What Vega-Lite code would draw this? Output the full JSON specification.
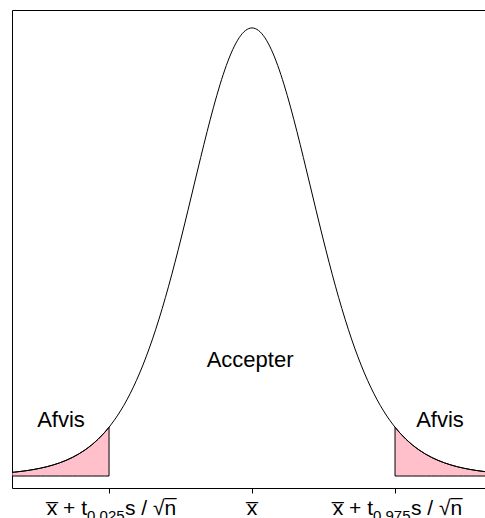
{
  "$schema": "https://vega.github.io/schema/vega-lite/v6.json",
  "width": 473,
  "height": 478,
  "autosize": {"type": "none"},
  "padding": {"left": 12, "top": 10, "right": 0, "bottom": 30},
  "background": "white",
  "config": {
    "view": {"stroke": null},
    "font": "Liberation Sans",
    "text": {"font": "Liberation Sans", "color": "black"}
  },
  "datasets": {
    "curve": [
      {"t": -3.74, "d": 0.00316},
      {"t": -3.7, "d": 0.00339},
      {"t": -3.6, "d": 0.00403},
      {"t": -3.5, "d": 0.00478},
      {"t": -3.4, "d": 0.00569},
      {"t": -3.3, "d": 0.00677},
      {"t": -3.2, "d": 0.00805},
      {"t": -3.1, "d": 0.00958},
      {"t": -3.0, "d": 0.0114},
      {"t": -2.9, "d": 0.01356},
      {"t": -2.8, "d": 0.01612},
      {"t": -2.7, "d": 0.01916},
      {"t": -2.6, "d": 0.02273},
      {"t": -2.5, "d": 0.02694},
      {"t": -2.4, "d": 0.03189},
      {"t": -2.3, "d": 0.03766},
      {"t": -2.228, "d": 0.0424},
      {"t": -2.2, "d": 0.04439},
      {"t": -2.1, "d": 0.05217},
      {"t": -2.0, "d": 0.06114},
      {"t": -1.9, "d": 0.07143},
      {"t": -1.8, "d": 0.08312},
      {"t": -1.7, "d": 0.09632},
      {"t": -1.6, "d": 0.11108},
      {"t": -1.5, "d": 0.12745},
      {"t": -1.4, "d": 0.14539},
      {"t": -1.3, "d": 0.16485},
      {"t": -1.2, "d": 0.18567},
      {"t": -1.1, "d": 0.20761},
      {"t": -1.0, "d": 0.23036},
      {"t": -0.9, "d": 0.25353},
      {"t": -0.8, "d": 0.27662},
      {"t": -0.7, "d": 0.29909},
      {"t": -0.6, "d": 0.32032},
      {"t": -0.5, "d": 0.3397},
      {"t": -0.4, "d": 0.35658},
      {"t": -0.3, "d": 0.3704},
      {"t": -0.2, "d": 0.38066},
      {"t": -0.1, "d": 0.38698},
      {"t": 0.0, "d": 0.38911},
      {"t": 0.1, "d": 0.38698},
      {"t": 0.2, "d": 0.38066},
      {"t": 0.3, "d": 0.3704},
      {"t": 0.4, "d": 0.35658},
      {"t": 0.5, "d": 0.3397},
      {"t": 0.6, "d": 0.32032},
      {"t": 0.7, "d": 0.29909},
      {"t": 0.8, "d": 0.27662},
      {"t": 0.9, "d": 0.25353},
      {"t": 1.0, "d": 0.23036},
      {"t": 1.1, "d": 0.20761},
      {"t": 1.2, "d": 0.18567},
      {"t": 1.3, "d": 0.16485},
      {"t": 1.4, "d": 0.14539},
      {"t": 1.5, "d": 0.12745},
      {"t": 1.6, "d": 0.11108},
      {"t": 1.7, "d": 0.09632},
      {"t": 1.8, "d": 0.08312},
      {"t": 1.9, "d": 0.07143},
      {"t": 2.0, "d": 0.06114},
      {"t": 2.1, "d": 0.05217},
      {"t": 2.2, "d": 0.04439},
      {"t": 2.228, "d": 0.0424},
      {"t": 2.3, "d": 0.03766},
      {"t": 2.4, "d": 0.03189},
      {"t": 2.5, "d": 0.02694},
      {"t": 2.6, "d": 0.02273},
      {"t": 2.7, "d": 0.01916},
      {"t": 2.8, "d": 0.01612},
      {"t": 2.9, "d": 0.01356},
      {"t": 3.0, "d": 0.0114},
      {"t": 3.1, "d": 0.00958},
      {"t": 3.2, "d": 0.00805},
      {"t": 3.3, "d": 0.00677},
      {"t": 3.4, "d": 0.00569},
      {"t": 3.5, "d": 0.00478},
      {"t": 3.6, "d": 0.00403},
      {"t": 3.7, "d": 0.00339},
      {"t": 3.74, "d": 0.00316}
    ],
    "regions": [
      {"t": -2.976, "d": 0.0428, "label": "Afvis"},
      {"t": 2.929, "d": 0.0428, "label": "Afvis"},
      {"t": -0.03, "d": 0.0949, "label": "Accepter"}
    ],
    "bounds": [
      {"t": -2.228, "sub": "0.025"},
      {"t": 2.228, "sub": "0.975"}
    ],
    "centre": [
      {"t": 0}
    ]
  },
  "resolve": {"axis": {"x": "independent"}},
  "layer": [
    {
      "data": {"name": "curve"},
      "transform": [{"filter": "datum.t <= -2.228"}],
      "mark": {"type": "area", "fill": "#FFC0CB", "stroke": "black", "strokeWidth": 1, "clip": true},
      "encoding": {
        "x": {"field": "t", "type": "quantitative", "scale": {"domain": [-3.74, 3.63], "nice": false, "zero": false}, "axis": null},
        "y": {"field": "d", "type": "quantitative", "scale": {"domain": [-0.0104, 0.4047], "nice": false, "zero": false},
              "axis": {"orient": "left", "domain": true, "domainColor": "black", "domainWidth": 1, "ticks": false, "labels": false, "grid": false, "title": null}},
        "y2": {"datum": 0}
      }
    },
    {
      "data": {"name": "curve"},
      "transform": [{"filter": "datum.t >= 2.228"}],
      "mark": {"type": "area", "fill": "#FFC0CB", "stroke": "black", "strokeWidth": 1, "clip": true},
      "encoding": {
        "x": {"field": "t", "type": "quantitative", "axis": null},
        "y": {"field": "d", "type": "quantitative"},
        "y2": {"datum": 0}
      }
    },
    {
      "data": {"name": "curve"},
      "mark": {"type": "line", "color": "black", "strokeWidth": 1, "interpolate": "monotone", "clip": true},
      "encoding": {
        "x": {"field": "t", "type": "quantitative",
              "axis": {"orient": "bottom", "values": [-2.228, 0, 2.228], "domain": true, "domainColor": "black", "domainWidth": 1, "ticks": true, "tickColor": "black", "tickSize": 5, "labels": false, "grid": false, "title": null}},
        "y": {"field": "d", "type": "quantitative"}
      }
    },
    {
      "data": {"name": "regions"},
      "mark": {"type": "text", "fontSize": 22, "align": "center", "baseline": "alphabetic"},
      "encoding": {
        "x": {"field": "t", "type": "quantitative",
              "axis": {"orient": "top", "domain": true, "domainColor": "black", "domainWidth": 1, "ticks": false, "labels": false, "grid": false, "title": null}},
        "y": {"field": "d", "type": "quantitative"},
        "text": {"field": "label"}
      }
    },
    {
      "data": {"name": "bounds"},
      "mark": {"type": "text", "fontSize": 21, "align": "right", "baseline": "alphabetic", "dx": -22, "dy": 27},
      "encoding": {
        "x": {"field": "t", "type": "quantitative", "axis": null},
        "y": {"datum": -0.0104},
        "text": {"value": "x̅ + t"}
      }
    },
    {
      "data": {"name": "bounds"},
      "mark": {"type": "text", "fontSize": 15, "align": "left", "baseline": "alphabetic", "dx": -22, "dy": 33},
      "encoding": {
        "x": {"field": "t", "type": "quantitative", "axis": null},
        "y": {"datum": -0.0104},
        "text": {"field": "sub"}
      }
    },
    {
      "data": {"name": "bounds"},
      "mark": {"type": "text", "fontSize": 21, "align": "left", "baseline": "alphabetic", "dx": 16, "dy": 27},
      "encoding": {
        "x": {"field": "t", "type": "quantitative", "axis": null},
        "y": {"datum": -0.0104},
        "text": {"value": "s / √n̅"}
      }
    },
    {
      "data": {"name": "centre"},
      "mark": {"type": "text", "fontSize": 21, "align": "center", "baseline": "alphabetic", "dy": 27},
      "encoding": {
        "x": {"field": "t", "type": "quantitative", "axis": null},
        "y": {"datum": -0.0104},
        "text": {"value": "x̅"}
      }
    }
  ]
}
